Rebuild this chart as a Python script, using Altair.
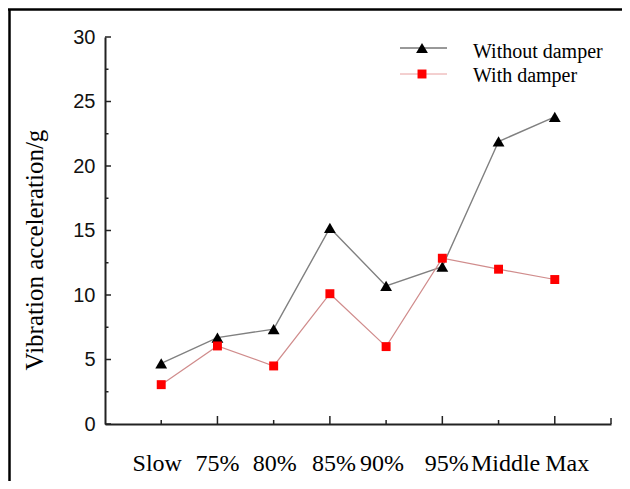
import altair as alt
import pandas as pd

categories = ["Slow", "75%", "80%", "85%", "90%", "95%", "Middle", "Max"]
without_damper = [4.7, 6.7, 7.35, 15.2, 10.7, 12.2, 21.9, 23.8]
with_damper = [3.05, 6.05, 4.5, 10.1, 6.0, 12.85, 12.0, 11.2]
series_names = ["Without damper", "With damper"]
y_title = "Vibration acceleration/g"
y_major = [0, 5, 10, 15, 20, 25, 30]
y_minor = [2.5, 7.5, 12.5, 17.5, 22.5, 27.5]
x_long_ticks = ["75%", "85%", "95%", "Max"]
x_short_ticks = ["Slow", "80%", "90%", "Middle"]

W, H = 506, 387
SERIF = "Liberation Serif"
SANS = "Liberation Sans"
AX = "#222222"

df_wo = pd.DataFrame({"cat": categories, "v": without_damper})
df_w = pd.DataFrame({"cat": categories, "v": with_damper})

xs = alt.Scale(type="point", domain=categories, padding=1)
ys = alt.Scale(domain=[0, 30], nice=False, zero=True)

# small label shifts seen in the original typesetting
label_shift = {"Slow": -4, "75%": 0, "80%": 1, "85%": 4, "90%": -4, "95%": 4.5,
               "Middle": 7, "Max": 12.5}

x_axis = alt.Axis(title=None, labels=False, ticks=False, domainColor=AX, domainWidth=2,
                  grid=False)
y_axis = alt.Axis(title=None, values=y_major, labelFont=SANS,
                  labelFontSize=20, labelColor="#111111", ticks=False, domainColor=AX,
                  domainWidth=2, labelPadding=10, grid=False)

X = alt.X("cat:N", scale=xs, sort=categories, axis=x_axis)
Y = alt.Y("v:Q", scale=ys, axis=y_axis)

line_wo = alt.Chart(df_wo).mark_line(color="#808080", strokeWidth=1.4).encode(x=X, y=Y)
line_w = alt.Chart(df_w).mark_line(color="#d08c8c", strokeWidth=1.2).encode(x=X, y=Y)
pts_wo = alt.Chart(df_wo).mark_point(shape="triangle-up", filled=True, color="black",
                                     size=140, opacity=1).encode(x=X, y=Y)
pts_w = alt.Chart(df_w).mark_point(shape="square", filled=True, color="#ff0000",
                                   size=80, opacity=1).encode(x=X, y=Y)

# inward ticks
yt_major = alt.Chart(pd.DataFrame({"v": y_major})).mark_rule(color=AX, strokeWidth=1.5).encode(
    y=Y, x=alt.value(0), x2=alt.value(6))
yt_minor = alt.Chart(pd.DataFrame({"v": y_minor})).mark_rule(color=AX, strokeWidth=1.5).encode(
    y=Y, x=alt.value(0), x2=alt.value(3.5))
xt_long = alt.Chart(pd.DataFrame({"cat": x_long_ticks})).mark_rule(color=AX, strokeWidth=1.5).encode(
    x=X, y=alt.value(H), y2=alt.value(H - 8))
xt_short = alt.Chart(pd.DataFrame({"cat": x_short_ticks})).mark_rule(color=AX, strokeWidth=1.5).encode(
    x=X, y=alt.value(H), y2=alt.value(H - 4))
xt_end = alt.Chart(pd.DataFrame({"cat": [categories[-1]]})).mark_rule(color=AX, strokeWidth=1.5).encode(
    x=alt.value(W), y=alt.value(H), y2=alt.value(H - 6))

# x tick labels (serif text marks placed on the x scale)
x_label_layers = []
for c in categories:
    x_label_layers.append(
        alt.Chart(pd.DataFrame({"cat": [c]})).mark_text(
            font=SERIF, fontSize=24, color="black", align="center",
            baseline="alphabetic", dx=label_shift[c]
        ).encode(x=X, y=alt.value(H + 47), text="cat:N")
    )

# y axis title
title_layer = alt.Chart(pd.DataFrame({"t": [y_title]})).mark_text(
    font=SERIF, fontSize=25, color="black", align="center", baseline="alphabetic", angle=270
).encode(x=alt.value(-62), y=alt.value(213), text="t:N")

# manual legend
leg_rows = [
    (series_names[0], 11, 21, "#333333", "triangle-up", "black", 140),
    (series_names[1], 37, 45, "#e8a0a0", "square", "#ff0000", 80),
]
legend_layers = []
for name, ly, ty, lcol, shp, mcol, msize in leg_rows:
    d = pd.DataFrame({"label": [name]})
    legend_layers.append(alt.Chart(d).mark_rule(color=lcol, strokeWidth=1).encode(
        x=alt.value(295), x2=alt.value(342), y=alt.value(ly)))
    legend_layers.append(alt.Chart(d).mark_point(shape=shp, filled=True, color=mcol,
                                                 size=msize, opacity=1).encode(
        x=alt.value(317), y=alt.value(ly)))
    legend_layers.append(alt.Chart(d).mark_text(font=SERIF, fontSize=20, color="black",
                                                align="left", baseline="alphabetic").encode(
        x=alt.value(368), y=alt.value(ty), text="label:N"))

# outer frame (left and top edges)
frame_d = pd.DataFrame({"label": ["frame"]})
frame_left = alt.Chart(frame_d).mark_rule(color="black", strokeWidth=2.5).encode(
    x=alt.value(-95.5), y=alt.value(-28), y2=alt.value(H + 70))
frame_top = alt.Chart(frame_d).mark_rule(color="black", strokeWidth=2.5).encode(
    x=alt.value(-97), x2=alt.value(W + 20), y=alt.value(-27.5))

chart = alt.layer(
    line_wo, line_w, pts_wo, pts_w,
    yt_major, yt_minor, xt_long, xt_short, xt_end,
    *x_label_layers, title_layer,
    *legend_layers, frame_left, frame_top,
).properties(
    width=W, height=H,
    background="white",
    autosize=alt.AutoSizeParams(type="none"),
    padding={"left": 97, "top": 29, "right": 11, "bottom": 57},
).configure_view(
    strokeWidth=0, stroke="transparent"
)

chart.save("out.html", embed_options={"renderer": "svg", "actions": False})
